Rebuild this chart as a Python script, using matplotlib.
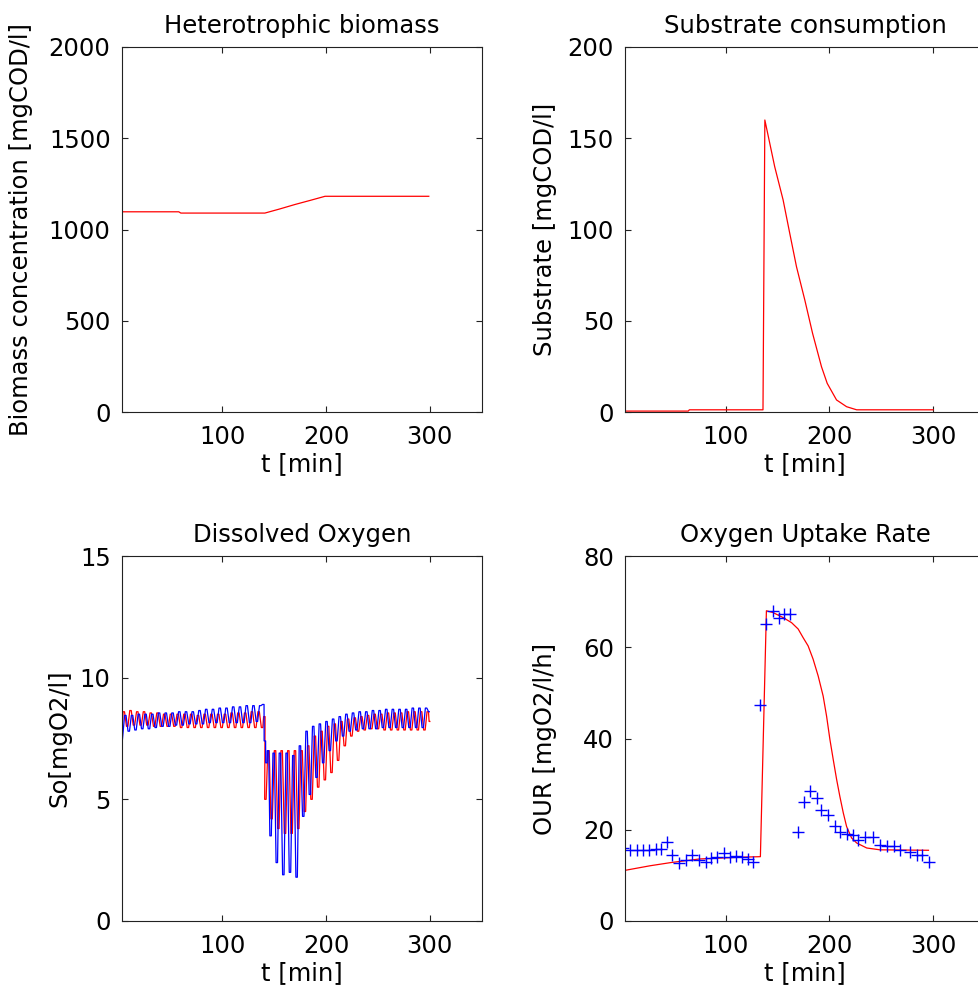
import matplotlib
matplotlib.use("Agg")
import matplotlib.pyplot as plt

plt.rcParams['font.family'] = ['DejaVu Sans']
FS = 17.5

# ---------------- data ----------------
bio_t = [3, 4, 58, 60, 141, 155, 170, 185, 199, 299]
bio_v = [1110, 1097, 1097, 1090, 1090, 1112, 1137, 1160, 1182, 1182]

sub_t = [3, 64, 65, 136, 137.8, 147.3, 155.4, 161.8, 168.3, 176.3, 183.8, 192.4, 197.9,
         206.9, 216.6, 226.3, 300]
sub_v = [0.5, 0.5, 1.2, 1.2, 160, 134.4, 116.2, 97.9, 79.6, 61.4, 43.1, 24.8, 15.7,
         6.6, 2.9, 1.2, 1.2]

# dissolved oxygen: turning points (peaks / troughs) of the aeration cycles
do_red_t = [3, 5, 8.3, 11.5, 14.8, 18, 21.3, 24.5, 27.8, 31, 34.3, 37.5, 40.8, 44, 47.3,
            50.5, 53.8, 57, 60.3, 63.5, 66.8, 70, 73.3, 76.5, 79.8, 83, 86.3, 89.5, 92.8,
            96, 99.3, 102.5, 105.8, 109, 112.3, 115.5, 118.8, 122, 125.3, 128.5, 131.8,
            135, 138.3, 140.5,
            141.5, 144.5, 147.5, 150.8, 154, 157.2, 160.4, 163.6, 166.8, 170, 173.2, 176.4,
            179.6, 182.8, 186, 189.2, 192.4, 195.6, 198.8, 202, 205.2, 208.4, 211.6, 214.8,
            218, 221.2, 224.4, 227.6, 230.8, 234, 237.2, 240.4, 243.6, 246.8, 250, 253.2,
            256.4, 259.6, 262.8, 266, 269.2, 272.4, 275.6, 278.8, 282, 285.2, 288.4, 291.6,
            294.8, 298, 300]
do_red_v = [8.0, 8.6, 8.0, 8.65, 8.05, 8.6, 8.05, 8.6, 8.05, 8.55, 8.0, 8.55, 8.0, 8.5, 8.0,
            8.5, 8.0, 8.5, 7.95, 8.5, 7.95, 8.5, 7.95, 8.45, 7.95, 8.5, 7.95, 8.5, 7.95,
            8.5, 7.95, 8.5, 7.95, 8.55, 7.95, 8.55, 7.95, 8.55, 7.95, 8.6, 7.95, 8.6, 7.95, 8.4,
            5.0, 7.0, 4.2, 7.0, 3.8, 7.0, 3.6, 7.0, 3.6, 7.0, 3.8, 7.0,
            4.5, 7.2, 5.0, 7.6, 5.5, 7.8, 5.8, 8.0, 6.1, 8.1, 6.6, 8.2,
            7.2, 8.3, 7.6, 8.35, 7.8, 8.4, 7.85, 8.45, 7.9, 8.5, 7.9, 8.5,
            7.85, 8.55, 7.85, 8.55, 7.85, 8.55, 7.85, 8.6, 7.85, 8.6, 7.85, 8.6,
            7.85, 8.6, 8.2]

do_blue_t = [3, 6.5, 9.8, 13, 16.3, 19.5, 22.8, 26, 29.3, 32.5, 35.8, 39, 42.3, 45.5, 48.8,
             52, 55.3, 58.5, 61.8, 65, 68.3, 71.5, 74.8, 78, 81.3, 84.5, 87.8, 91, 94.3,
             97.5, 100.8, 104, 107.3, 110.5, 113.8, 117, 120.3, 123.5, 126.8, 130, 133.3,
             136.5, 139.5,
             141, 142.5, 144, 146.5, 149.5, 152.5, 155.5, 158.8, 162, 165.2, 168.4, 171.6,
             174.8, 178, 181.2, 184.4, 187.6, 190.8, 194, 197.2, 200.4, 203.6, 206.8, 210,
             213.2, 216.4, 219.6, 222.8, 226, 229.2, 232.4, 235.6, 238.8, 242, 245.2, 248.4,
             251.6, 254.8, 258, 261.2, 264.4, 267.6, 270.8, 274, 277.2, 280.4, 283.6, 286.8,
             290, 293.2, 296.4, 299.5]
do_blue_v = [7.45, 8.45, 7.8, 8.45, 7.85, 8.5, 7.9, 8.5, 7.9, 8.5, 7.95, 8.55, 8.0, 8.55, 8.0,
             8.55, 8.05, 8.6, 8.05, 8.6, 8.1, 8.6, 8.1, 8.65, 8.1, 8.7, 8.15, 8.7, 8.15,
             8.75, 8.15, 8.75, 8.15, 8.8, 8.15, 8.8, 8.15, 8.85, 8.15, 8.85, 8.2,
             8.85, 8.9,
             7.4, 6.5, 7.0, 3.5, 6.9, 2.4, 6.9, 1.9, 6.9, 2.0, 6.8, 1.8,
             7.2, 4.3, 7.8, 5.2, 8.0, 5.9, 8.1, 6.5, 8.2, 7.0, 8.3, 7.4,
             8.4, 7.6, 8.5, 7.8, 8.55, 7.85, 8.6, 7.9, 8.6, 7.9, 8.65, 7.9,
             8.65, 7.95, 8.7, 7.95, 8.7, 7.95, 8.7, 7.95, 8.7, 7.95, 8.75, 7.95,
             8.75, 7.95, 8.75, 8.6]

our_t = [3, 27, 47, 75, 117, 133.5, 139.3, 145.7, 155.4, 163.5, 169.9, 174.7, 179.5, 184.3,
         189.2, 194, 197.3, 200.5, 203.7, 207, 210.1, 213.4, 216.6, 221.4, 226.3, 236,
         248.8, 295.5]
our_v = [11.1, 12.1, 12.8, 13.6, 14.0, 14.1, 68, 67.6, 66.5, 65.4, 64.0, 62.1, 60.3, 57.4,
         53.7, 49.3, 44.9, 39.8, 35.4, 31.0, 27.3, 23.7, 20.7, 18.2, 17.1, 16.0,
         15.6, 15.5]

our_meas_t = [1.4, 7.9, 14.3, 20.1, 25.9, 32.4, 37.9, 43.7, 48.5, 54.9, 61.4, 67.8, 74.2,
              80.7, 86.2, 92, 98.4, 103.9, 109.7, 116.1, 121.5, 126.4,
              133.5, 139.3, 145.7, 151.5, 156.3, 161.8, 169.9, 175.7, 181.2, 187.6, 192.4,
              198.8, 205.3, 210.1, 216.6, 223, 227.8, 234.3, 241.7, 248.8, 255.3, 262.3,
              268.1, 277.8, 284.2, 289.1, 296.4]
our_meas_v = [16.1, 15.5, 15.5, 15.5, 15.5, 15.8, 15.8, 17.4, 14.5, 12.7, 13.4, 14.5, 13.4,
              13.0, 13.8, 14.0, 14.9, 14.1, 14.3, 14.0, 13.6, 13.0,
              47.3, 65.2, 68.0, 66.5, 67.2, 67.2, 19.5, 26.1, 28.6, 27.0, 24.4,
              23.3, 20.9, 19.6, 19.1, 18.9, 17.8, 18.5, 18.5, 16.7, 16.4, 16.5,
              15.6, 15.2, 14.5, 14.5, 13.0]

xticks = [100, 200, 300]


def plateau(ts, vs, half=0.7):
    """Draw each turning point as a short flat plateau (square-ish wave)."""
    xs, ys = [], []
    for t, v in zip(ts, vs):
        xs += [t - half, t + half]
        ys += [v, v]
    xs[0] = ts[0]
    xs[-1] = ts[-1]
    return xs, ys


# ---------------- figure ----------------
fig = plt.figure(figsize=(9.79, 9.92), dpi=100)
W, H = 979.0, 992.0
aw, ah = 360 / W, 365 / H
ax1 = fig.add_axes([121.7 / W, (H - 412) / H, aw, ah])
ax2 = fig.add_axes([625 / W, (H - 412) / H, aw, ah])
ax3 = fig.add_axes([121.7 / W, (H - 921) / H, aw, ah])
ax4 = fig.add_axes([625 / W, (H - 921) / H, aw, ah])

RED = '#ff0000'
BLUE = '#0000ff'

ax1.plot(bio_t, bio_v, color=RED, lw=0.9)
ax2.plot(sub_t, sub_v, color=RED, lw=0.9)
ax3.plot(*plateau(do_red_t, do_red_v), color=RED, lw=0.9)
ax3.plot(*plateau(do_blue_t, do_blue_v), color=BLUE, lw=0.9)
ax4.plot(our_t, our_v, color=RED, lw=0.9)
ax4.plot(our_meas_t, our_meas_v, '+', color=BLUE, ms=9, mew=1.0)

specs = [
    (ax1, 'Heterotrophic biomass', 'Biomass concentration [mgCOD/l]', (0, 2000), [0, 500, 1000, 1500, 2000], -0.245),
    (ax2, 'Substrate consumption', 'Substrate [mgCOD/l]', (0, 200), [0, 50, 100, 150, 200], -0.19),
    (ax3, 'Dissolved Oxygen', 'So[mgO2/l]', (0, 15), [0, 5, 10, 15], -0.14),
    (ax4, 'Oxygen Uptake Rate', 'OUR [mgO2/l/h]', (0, 80), [0, 20, 40, 60, 80], -0.19),
]
for ax, title, ylabel, ylim, yticks, ylx in specs:
    ax.set_xlim(3, 350)
    ax.set_ylim(*ylim)
    ax.set_xticks(xticks)
    ax.set_yticks(yticks)
    ax.set_title(title, fontsize=FS, pad=10)
    ax.set_xlabel('t [min]', fontsize=FS, labelpad=2)
    ax.set_ylabel(ylabel, fontsize=FS)
    ax.yaxis.set_label_coords(ylx, 0.5)
    ax.tick_params(direction='in', length=4, width=0.8, top=True, right=True,
                   labelsize=FS, color='#222222')
    ax.tick_params(axis='x', pad=9.5)
    ax.tick_params(axis='y', pad=8)
    for s in ax.spines.values():
        s.set_linewidth(0.8)
        s.set_color('#222222')

fig.savefig('out.png', dpi=100)
